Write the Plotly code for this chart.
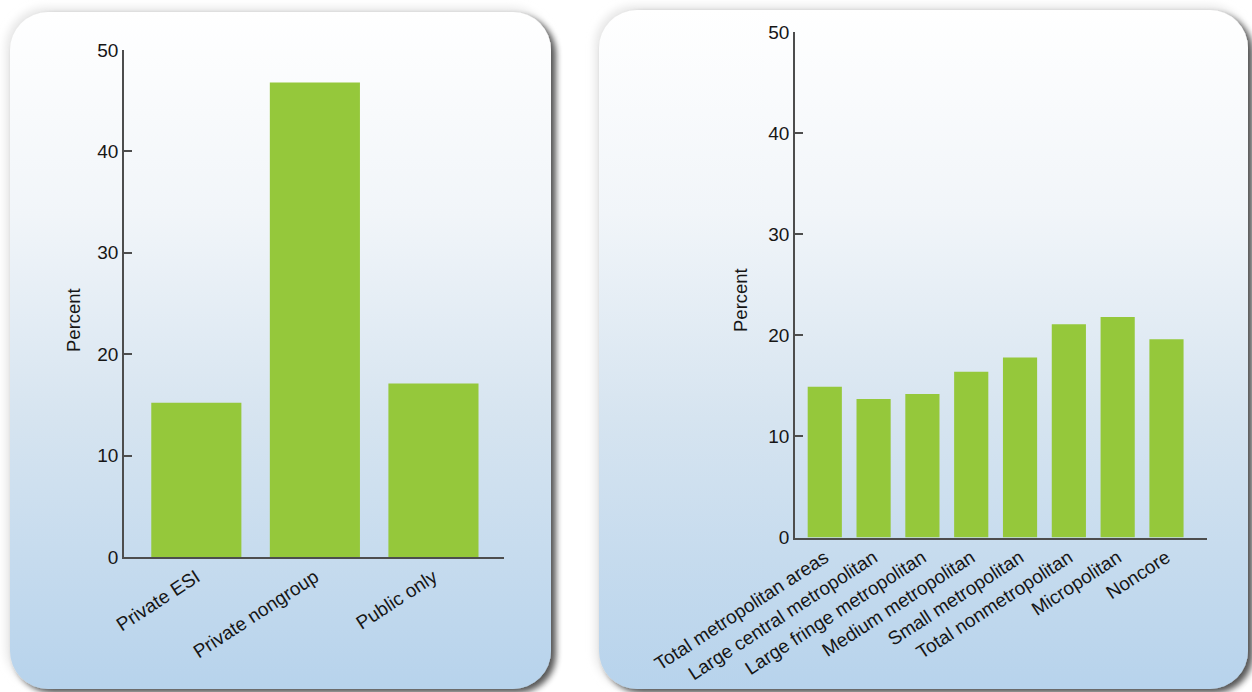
import base64
import plotly.graph_objects as go

# ---- data ----
left_categories = ["Private ESI", "Private nongroup", "Public only"]
left_values = [15.2, 46.8, 17.1]

right_categories = [
    "Total metropolitan areas",
    "Large central metropolitan",
    "Large fringe metropolitan",
    "Medium metropolitan",
    "Small metropolitan",
    "Total nonmetropolitan",
    "Micropolitan",
    "Noncore",
]
right_values = [14.9, 13.7, 14.2, 16.4, 17.8, 21.1, 21.8, 19.6]

y_tickvals = [0, 10, 20, 30, 40, 50]
y_ticktext = ["0", "10", "20", "30", "40", "50"]

W, H = 1252, 692
BAR = "#95c83b"
AXC = "#4d4d4d"
TXT = "#161616"
FONT = "Liberation Sans, Arial, Helvetica, sans-serif"

# ---- background cards (SVG with gradient + shadow) ----
svg = f"""<svg xmlns='http://www.w3.org/2000/svg' width='{W}' height='{H}' viewBox='0 0 {W} {H}'>
<defs>
<linearGradient id='g' x1='0' y1='0' x2='0' y2='1'>
<stop offset='0' stop-color='#ffffff'/>
<stop offset='0.3' stop-color='#f1f5f9'/>
<stop offset='0.6' stop-color='#d6e4f0'/>
<stop offset='1' stop-color='#b7d3ec'/>
</linearGradient>
<filter id='s' x='-10%' y='-10%' width='125%' height='125%'>
<feGaussianBlur in='SourceAlpha' stdDeviation='3'/>
<feOffset dx='5' dy='4' result='o'/>
<feComponentTransfer><feFuncA type='linear' slope='0.65'/></feComponentTransfer>
<feMerge><feMergeNode/><feMergeNode in='SourceGraphic'/></feMerge>
</filter>
<filter id='hl' x='-10%' y='-10%' width='125%' height='125%'>
<feGaussianBlur stdDeviation='4'/>
</filter>
</defs>
<rect x='6' y='8' width='545' height='680' rx='40' fill='#e6e6e6' filter='url(#hl)'/>
<rect x='595' y='6' width='654' height='684' rx='40' fill='#e6e6e6' filter='url(#hl)'/>
<rect x='10' y='12' width='541' height='677' rx='38' fill='url(#g)' filter='url(#s)'/>
<rect x='599' y='10' width='649' height='679' rx='38' fill='url(#g)' filter='url(#s)'/>
</svg>"""
src = "data:image/svg+xml;base64," + base64.b64encode(svg.encode()).decode()

fig = go.Figure()
fig.add_trace(go.Bar(x=left_categories, y=left_values, marker_color=BAR,
                     marker_line_width=0, xaxis="x", yaxis="y", showlegend=False,
                     width=0.76))
fig.add_trace(go.Bar(x=right_categories, y=right_values, marker_color=BAR,
                     marker_line_width=0, xaxis="x2", yaxis="y2", showlegend=False,
                     width=0.7))

def px_x(v):
    return v / W

def px_y(v):
    return 1 - v / H

yax = dict(range=[0, 50], tickvals=y_tickvals, ticktext=y_ticktext,
           showline=True, linecolor=AXC, linewidth=1.5, ticks="inside",
           ticklen=8, tickwidth=1.5, tickcolor=AXC, showgrid=False,
           zeroline=False, tickfont=dict(size=19, color=TXT, family=FONT),
           fixedrange=True, automargin=False)
xax = dict(showline=True, linecolor=AXC, linewidth=1.5, ticks="",
           showgrid=False, zeroline=False, tickangle=-33,
           tickfont=dict(size=19, color=TXT, family=FONT), fixedrange=True,
           automargin=False)

fig.update_layout(
    width=W, height=H, autosize=False,
    margin=dict(l=0, r=0, t=0, b=0, pad=0),
    paper_bgcolor="white", plot_bgcolor="rgba(0,0,0,0)",
    font=dict(family=FONT),
    xaxis=dict(xax, domain=[px_x(124), px_x(504)], range=[-0.61, 2.595],
               anchor="y"),
    yaxis=dict(yax, domain=[px_y(557), px_y(50)], anchor="x"),
    xaxis2=dict(xax, domain=[px_x(795), px_x(1207)], range=[-0.61, 7.83],
                anchor="y2"),
    yaxis2=dict(yax, domain=[px_y(537.5), px_y(32)], anchor="x2"),
    images=[dict(source=src, xref="paper", yref="paper", x=0, y=1,
                 sizex=1, sizey=1, xanchor="left", yanchor="top",
                 sizing="stretch", layer="below")],
    annotations=[
        dict(text="Percent", x=px_x(73), y=px_y(320), xref="paper", yref="paper",
             xanchor="center", yanchor="middle",
             textangle=-90, showarrow=False,
             font=dict(size=18.5, color=TXT, family=FONT)),
        dict(text="Percent", x=px_x(741), y=px_y(300), xref="paper", yref="paper",
             xanchor="center", yanchor="middle",
             textangle=-90, showarrow=False,
             font=dict(size=18.5, color=TXT, family=FONT)),
    ],
)

fig.write_html("out.html", config={"displayModeBar": False},
               post_script="document.body.style.margin='0';")
